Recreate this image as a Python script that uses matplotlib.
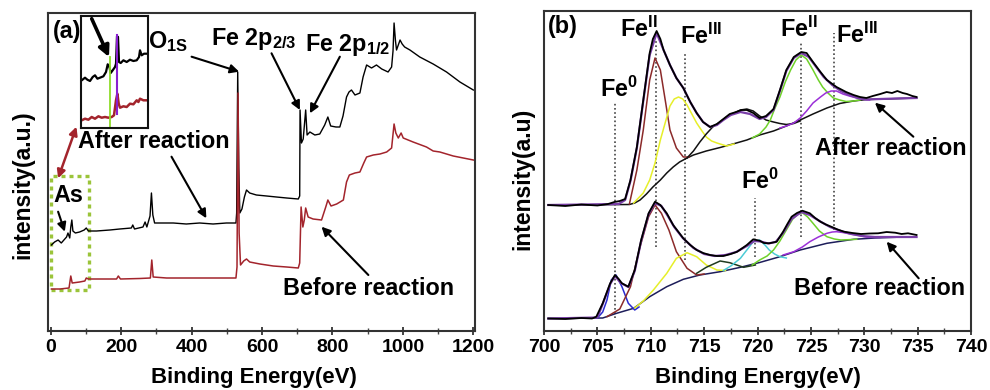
import matplotlib
matplotlib.use("Agg")
import matplotlib.pyplot as plt
from matplotlib.ticker import MultipleLocator
from matplotlib.patches import Rectangle

plt.rcParams['font.family'] = ['Liberation Sans', 'DejaVu Sans']
plt.rcParams['font.weight'] = 'bold'
plt.rcParams['mathtext.fontset'] = 'custom'
plt.rcParams['mathtext.rm'] = 'Liberation Sans:bold'
plt.rcParams['mathtext.bf'] = 'Liberation Sans:bold'
plt.rcParams['mathtext.it'] = 'Liberation Sans:bold:italic'

# ---------------- Panel (a): survey spectra ----------------
survey_after_E = [2, 11, 21, 30, 40, 45, 49, 54, 57, 60, 63, 70, 82, 95, 101, 107, 130, 168, 196, 229, 233, 238,
                  262, 268, 273, 282, 286, 290, 295, 310, 348, 385, 423, 461, 499, 526, 528, 531, 534, 537, 543,
                  550, 556, 565, 584, 613, 641, 670, 703, 707, 708, 712, 717, 724, 728, 736, 750, 764, 778, 787,
                  795, 810, 821, 830, 840, 847, 854, 864, 878, 887, 897, 911, 925, 940, 958, 968, 972, 975, 979,
                  982, 987, 992, 998, 1005, 1020, 1048, 1086, 1124, 1143, 1162, 1200]
survey_after_I = [86, 89, 91, 88, 92, 94, 98, 93, 104, 111, 100, 98, 99, 101, 103, 100, 100, 101, 102, 103, 106, 102,
                  104, 109, 104, 115, 138, 116, 108, 108, 108, 107, 108, 107, 108, 108, 118, 259, 164, 118, 122,
                  134, 141, 138, 136, 135, 134, 133, 132, 135, 221, 188, 192, 221, 196, 199, 196, 197, 206, 214,
                  205, 204, 204, 215, 234, 239, 241, 236, 238, 254, 266, 263, 266, 262, 259, 264, 280, 308, 290,
                  281, 286, 291, 287, 284, 281, 274, 267, 259, 254, 249, 241]

survey_before_E = [2, 26, 52, 57, 61, 82, 97, 101, 107, 139, 187, 192, 198, 253, 283, 287, 291, 329, 423, 526, 529,
                   532, 535, 539, 548, 556, 565, 594, 632, 670, 703, 707, 711, 716, 720, 724, 731, 745, 769, 781,
                   787, 796, 812, 831, 840, 848, 864, 878, 889, 897, 916, 935, 954, 968, 975, 980, 987, 995, 1001,
                   1029, 1067, 1086, 1105, 1143, 1200]
survey_before_I = [42, 42, 43, 55, 48, 49, 50, 53, 52, 52, 52, 55, 52, 52.5, 53, 71, 54, 53, 53, 53, 64,
                   238, 98, 66, 70, 72, 69, 67, 65, 64, 63, 68, 124, 104, 111, 123, 114, 112, 111, 124,
                   131, 125, 127, 131, 149, 156, 158, 159, 168, 174, 176, 177, 179, 183, 207, 198, 193, 198, 193,
                   189, 184, 180, 179, 175, 171]

# inset (zoom of the As region), local units
inset_x_after = [1, 4.3, 6.7, 9.3, 12, 14.3, 16.7, 19.3, 22.7, 25.3, 27, 28.7, 30, 32, 34.3, 35.3, 36.3, 37.3,
                 38.3, 40, 42.7, 46, 49.3, 52.7, 56, 58.3, 59.3, 61, 63.3, 66]
inset_y_after = [47.7, 50.3, 48.3, 47, 51, 52.7, 49.3, 50.3, 51.7, 56, 63.7, 61, 55, 57.7, 61, 64.3, 91.7, 91,
                 66, 65, 67.7, 66, 68.3, 67, 67.7, 71, 77.7, 72.7, 74.3, 74.3]
inset_x_before = [1, 4.3, 7.7, 11, 14.3, 17.7, 21, 24.3, 27.7, 31, 33.3, 35.3, 36.7, 38, 39.3, 42.7, 46, 49.3,
                  52.7, 56, 57.7, 59.3, 62.7, 66]
inset_y_before = [7.7, 9.3, 8.3, 11, 9.3, 11.7, 10.3, 11, 10.3, 11, 12.7, 27.7, 34.3, 24.3, 20.3, 21.7, 21, 24.3,
                  23.7, 27.7, 26, 29.3, 27.7, 27.7]

# ---------------- Panel (b): Fe 2p high resolution ----------------
after_E = [700.4, 702.0, 703.5, 705.0, 706.0, 706.6, 707.1, 707.6, 708.1, 708.7, 709.3, 709.9, 710.2, 710.55,
           710.9, 711.2, 711.8, 712.4, 713.05, 713.7, 714.3, 714.9, 715.55, 716.2, 716.8, 717.4, 718.0, 718.5,
           719.0, 719.6, 720.2, 720.8, 721.5, 722.1, 722.7, 723.4, 724.1, 724.6, 725.2, 725.9, 726.5, 727.4,
           728.3, 729.0, 729.6, 730.2, 730.8, 731.5, 732.1, 732.6, 733.1, 733.6, 734.0, 734.5, 734.9]
after_I = [126, 125, 126.5, 125.5, 127, 129, 130, 132, 151, 184, 231, 278, 292, 300,
           292, 281, 266, 253, 243, 229, 218, 209, 204, 207, 212, 217, 219, 221,
           221, 218, 213, 215, 222, 241, 261, 274, 279, 278, 269, 259, 251, 244,
           239, 236, 234, 233, 235, 237, 239, 238, 240, 238, 237, 235, 234]

after_fit_E = [700.4, 707.0, 707.6, 708.1, 708.7, 709.3, 709.9, 710.55, 711.2, 711.8, 712.4, 713.05, 713.7,
               714.3, 714.9, 715.55, 716.2, 716.8, 717.5, 718.4, 719.3, 720.2, 720.8, 721.5, 722.1, 722.7,
               723.4, 724.1, 724.8, 725.5, 726.2, 727.0, 727.8, 728.6, 729.4, 730.2, 731.5, 733.0, 734.9]
after_fit_I = [126, 127, 131, 150, 183, 230, 276, 298, 281, 266, 253, 243, 229,
               218, 209, 204, 206, 211, 216, 219, 217, 212, 214, 221, 240, 260,
               273, 278, 274, 264, 254, 246, 240, 236, 233, 231.5, 232, 232.5, 233]

after_bg_E = [700.4, 708.0, 708.5, 709.0, 709.6, 710.2, 710.9, 711.5, 712.1, 712.7, 713.4, 714.0, 715.2,
              716.5, 717.7, 719.0, 720.2, 721.5, 722.7, 724.0, 725.2, 726.5, 727.7, 729.0, 730.2, 731.8,
              733.4, 734.9]
after_bg_I = [126, 126.5, 128, 131, 137, 144, 151, 158, 164, 169, 173, 176, 180,
              183.5, 187, 191, 196, 200, 205, 211, 217, 223, 227.5, 230, 231.5, 232,
              232.5, 233]

after_fe2_E = [708.0, 708.7, 709.3, 709.9, 710.4, 710.9, 711.4, 711.8, 712.4, 713.05, 713.6]
after_fe2_I = [127, 161, 201, 251, 273, 261, 228, 201, 183, 174, 174]

after_fe3_E = [708.4, 709.3, 709.9, 710.4, 710.9, 711.4, 711.8, 712.2, 712.6, 713.0, 713.4, 713.9, 714.3,
               714.8, 715.2, 715.7, 716.2, 717.1, 717.8]
after_fe3_I = [128, 138, 151, 168, 191, 210, 225, 232, 234, 232, 226, 216, 208,
               200, 194, 190, 188, 185, 187]

after_sat_E = [713.4, 714.0, 714.6, 715.2, 715.8, 716.5, 717.1, 717.8, 718.4, 719.0, 719.6, 720.2, 720.8,
               721.5, 722.1, 722.7, 723.4, 724.0]
after_sat_I = [173, 180, 189, 197, 204, 209, 214, 218, 221, 222, 220, 215, 211,
               209, 207.5, 206.5, 207.5, 210]

after_fe2b_E = [719.5, 720.2, 720.8, 721.2, 721.6, 722.1, 722.6, 723.1, 723.6, 724.1, 724.6, 725.2, 725.7,
                726.1, 726.6, 727.1, 727.7, 728.3, 729.0, 729.6]
after_fe2b_I = [193, 197, 204, 211, 222, 234, 249, 261, 271, 276, 272, 261, 251,
                244, 238, 233, 231, 229.5, 230, 231]

after_fe3b_E = [722.1, 722.7, 723.4, 724.0, 724.6, 725.2, 725.9, 726.4, 726.9, 727.4, 728.0, 728.6, 729.3,
                730.0, 730.5]
after_fe3b_I = [203, 205, 208, 213, 220, 228, 234, 238, 240, 240, 237, 235, 233,
                231.5, 231]

before_E = [700.4, 702.0, 703.5, 704.5, 704.9, 705.5, 706.2, 706.65, 707.0, 707.3, 707.9, 708.5, 709.1,
            709.8, 710.4, 710.9, 711.5, 712.1, 713.05, 713.7, 714.3, 714.9, 715.55, 716.2, 716.8, 717.5,
            718.1, 718.6, 719.0, 719.6, 720.2, 720.6, 721.1, 721.8, 722.4, 722.8, 723.2, 723.7, 724.2, 724.9,
            725.4, 725.9, 726.4, 726.9, 727.5, 728.1, 728.9, 729.7, 730.5, 731.3, 732.1, 732.9, 733.5, 734.1,
            734.9]
before_I = [12.5, 12, 13, 12.5, 14.3, 27.7, 47.7, 56, 52, 47.7, 44.3, 61, 91,
            117.7, 129.3, 126, 117.7, 106, 92.7, 86, 81, 78, 76, 75, 75, 77,
            79.3, 83, 86, 91.7, 90.3, 88, 87.7, 89.3, 99.3, 107, 114.3, 118, 120.3, 117.7,
            113, 109.3, 106.5, 104.3, 101.5, 99.3, 98, 97, 97.5, 97.7, 99, 98.3, 97, 97.7,
            96]

before_fit_E = [700.4, 705.0, 705.5, 706.2, 706.65, 707.2, 707.9, 708.5, 709.1, 709.8, 710.4, 711.0, 711.6,
                712.2, 713.0, 714.0, 715.0, 716.0, 717.0, 718.0, 719.0, 719.7, 720.3, 721.0, 721.7, 722.4,
                723.2, 724.1, 724.9, 725.8, 726.8, 727.8, 728.8, 729.8, 731.0, 733.0, 734.9]
before_fit_I = [12.5, 13.5, 27, 47, 55, 48, 44, 60, 90, 117, 128, 125, 115,
                104, 93, 83, 77, 75, 76, 79, 85, 90, 89.5, 87.5, 89, 98,
                112, 119, 116, 110, 104, 100, 97, 95, 94, 94, 94]

before_bg_E = [700.4, 705.5, 706.8, 708.4, 709.9, 711.5, 713.05, 714.6, 716.5, 718.4, 720.2, 722.1, 724.0,
               726.5, 729.0, 731.0, 732.9]
before_bg_I = [12.5, 13, 17.7, 22.7, 34.3, 44.3, 51.7, 56, 59.3, 63.7, 68.5, 74.3, 81,
               87.7, 91.7, 93, 93.7]

before_fe0_E = [705.0, 705.5, 705.9, 706.3, 706.75, 707.3, 707.9, 708.5, 708.9]
before_fe0_I = [13, 19, 31, 51, 56, 44.3, 27.7, 21, 24]

before_fe2_E = [705.9, 707.1, 708.1, 709.0, 709.8, 710.4, 711.0, 711.7, 712.4, 713.4, 714.3, 715.0]
before_fe2_I = [14.3, 22, 44.3, 84.3, 114.3, 126, 117.7, 101, 79.3, 62.7, 56, 57]

before_fe3_E = [708.5, 709.3, 710.25, 711.5, 712.4, 713.4, 714.3, 715.2, 716.2, 717.0]
before_fe3_I = [23, 30, 41, 57.7, 72.7, 78.3, 74.3, 66, 61, 60.5]

before_sat_E = [714.3, 715.2, 716.5, 717.4, 718.7, 719.8]
before_sat_I = [57.7, 63.7, 70, 68.3, 63.7, 66]

before_fe0b_E = [716.8, 717.5, 718.4, 719.0, 719.6, 720.2, 720.7, 721.1, 721.6, 722.1, 722.7]
before_fe0b_I = [60.5, 65, 72.7, 81, 89.3, 91, 86, 81, 77, 74.3, 73]

before_fe2b_E = [719.5, 720.2, 720.9, 721.5, 722.1, 722.7, 723.3, 723.8, 724.2, 724.7, 725.2, 725.8, 726.5,
                 727.2, 727.8, 728.5, 729.3]
before_fe2b_I = [66, 71, 75, 81, 90, 101, 112, 117, 118.3, 114, 107.7, 100, 94.3,
                 92, 91, 91.3, 91.7]

before_fe3b_E = [722.4, 723.4, 724.2, 724.9, 725.7, 726.5, 727.0, 727.4, 728.0, 728.7, 729.5, 730.3, 731.5]
before_fe3b_I = [76, 79.3, 84, 89.3, 94, 97.7, 99, 99.3, 98.5, 97, 95.5, 93.7, 93.5]

ref_line_E = [706.65, 710.5, 713.2, 719.8, 724.1, 727.2]
ref_line_top = [228, 292, 278, 133, 288, 298]
ref_line_bottom = [13, 84, 71, 74, 94, 101]

tick_a = [0, 200, 400, 600, 800, 1000, 1200]
tick_b = [700, 705, 710, 715, 720, 725, 730, 735, 740]

# ---------------- figure ----------------
fig = plt.figure(figsize=(9.9, 3.9), dpi=100)
axa = fig.add_axes([48 / 990, 59 / 390, 427 / 990, 318 / 390])
axb = fig.add_axes([544 / 990, 59 / 390, 427 / 990, 320 / 390])

FS = 16.8
RED = '#a3242c'


def arrow(ax, head, tail, color='black', lw=1.5, style='-|>', ms=13):
    ax.annotate('', xy=head, xytext=tail,
                arrowprops=dict(arrowstyle=style, color=color, lw=lw, mutation_scale=ms,
                                shrinkA=0, shrinkB=0))


def style_axes(ax, ticks, minor):
    ax.set_xticks(ticks)
    ax.xaxis.set_minor_locator(MultipleLocator(minor))
    ax.set_yticks([])
    ax.tick_params(axis='x', which='major', direction='inout', length=6, width=1.2,
                   labelsize=14, pad=3, colors='#222222')
    ax.tick_params(axis='x', which='minor', direction='inout', length=4, width=1.0, colors='#444444')
    for lab in ax.get_xticklabels():
        lab.set_fontweight('bold')
        lab.set_color('black')
    for s in ax.spines.values():
        s.set_linewidth(1.5)
        s.set_color('#333333')


# Panel (a)
axa.plot(survey_after_E, survey_after_I, color='black', lw=1.0)
axa.plot(survey_before_E, survey_before_I, color=RED, lw=1.1)
axa.set_xlim(-7.7, 1204.8)
axa.set_ylim(0, 318)
style_axes(axa, tick_a, 100)
axa.set_xlabel('Binding Energy(eV)', fontsize=16, fontweight='bold', va='center')
axa.xaxis.set_label_coords(0.482, -0.147)
axa.set_ylabel('intensity(a.u.)', fontsize=16.5, fontweight='bold', va='center')
axa.yaxis.set_label_coords(-0.058, 0.46)

axa.text(5.7, 293, '(a)', fontsize=FS, fontweight='bold')
axa.text(276, 283, r'O$_{\mathrm{1S}}$', fontsize=FS, fontweight='bold')
axa.text(455, 286, r'Fe 2p$_{\mathrm{2/3}}$', fontsize=FS, fontweight='bold')
axa.text(722, 280, r'Fe 2p$_{\mathrm{1/2}}$', fontsize=FS, fontweight='bold')
axa.text(77.6, 183, 'After reaction', fontsize=FS, fontweight='bold')
axa.text(660, 36, 'Before reaction', fontsize=FS, fontweight='bold')
axa.text(6.5, 129, 'As', fontsize=FS, fontweight='bold')

arrow(axa, (535, 259.3), (400, 274.3))
arrow(axa, (707.6, 221), (627, 277.7))
arrow(axa, (736, 217.7), (821, 274.3))
arrow(axa, (442, 112.7), (343, 174.3))
arrow(axa, (769, 104.3), (902, 56))
arrow(axa, (40, 99.3), (21, 119.3))
arrow(axa, (21, 152.7), (73, 204.3), color=RED, lw=1.8, style='<|-|>', ms=12)

axa.add_patch(Rectangle((2, 41), 107, 114, fill=False, ls=(0, (1.2, 1.2)), lw=2.4,
                        edgecolor='#9bc43a'))

# inset
axi = fig.add_axes([80.7 / 990, (390 - 128) / 390, 67.3 / 990, 112 / 390])
axi.plot(inset_x_after, inset_y_after, color='black', lw=1.6)
axi.plot(inset_x_before, inset_y_before, color=RED, lw=1.8)
axi.plot([29.3, 29.3], [0, 71], color='#8fdc2a', lw=1.3)
axi.plot([36.7, 36.7], [14.3, 92.7], color='#8a1fd0', lw=1.5)
axi.annotate('', xy=(28.3, 71), xytext=(11, 109.3),
             arrowprops=dict(arrowstyle='-|>', color='black', lw=2.6, mutation_scale=16,
                             shrinkA=0, shrinkB=0))
axi.set_xlim(0, 67.3)
axi.set_ylim(0, 112)
axi.set_xticks([])
axi.set_yticks([])
for s in axi.spines.values():
    s.set_linewidth(1.5)
    s.set_color('#111111')

# Panel (b)
for x, t, b in zip(ref_line_E, ref_line_top, ref_line_bottom):
    axb.plot([x, x], [b, t], color='#444444', lw=1.2, ls=(0, (1, 1.5)))

comp_lw = 1.1
axb.plot(after_bg_E, after_bg_I, color='#111111', lw=1.1)
axb.plot(after_fe2_E, after_fe2_I, color='#8b2a2a', lw=comp_lw)
axb.plot(after_fe3_E, after_fe3_I, color='#e6ef2a', lw=comp_lw)
axb.plot(after_sat_E, after_sat_I, color='#111111', lw=comp_lw)
axb.plot(after_fe2b_E, after_fe2b_I, color='#6fd12a', lw=comp_lw)
axb.plot(after_fe3b_E, after_fe3b_I, color='#9b30d8', lw=comp_lw)
axb.plot(after_fit_E, after_fit_I, color='#7a3fa8', lw=1.6)
axb.plot(after_E, after_I, color='black', lw=1.3)

axb.plot(before_bg_E, before_bg_I, color='#1d1d5a', lw=1.1)
axb.plot(before_fe0_E, before_fe0_I, color='#2a2ad0', lw=comp_lw)
axb.plot(before_fe2_E, before_fe2_I, color='#8b2a2a', lw=comp_lw)
axb.plot(before_fe3_E, before_fe3_I, color='#e6ef2a', lw=comp_lw)
axb.plot(before_sat_E, before_sat_I, color='#1f3a1f', lw=comp_lw)
axb.plot(before_fe0b_E, before_fe0b_I, color='#4ccbd6', lw=comp_lw)
axb.plot(before_fe2b_E, before_fe2b_I, color='#6fd12a', lw=comp_lw)
axb.plot(before_fe3b_E, before_fe3b_I, color='#9b30d8', lw=comp_lw)
axb.plot(before_fit_E, before_fit_I, color='#7a3fa8', lw=1.6)
axb.plot(before_E, before_I, color='black', lw=1.3)

axb.set_xlim(700, 740)
axb.set_ylim(0, 320)
style_axes(axb, tick_b, 2.5)
axb.set_xlabel('Binding Energy(eV)', fontsize=16, fontweight='bold', va='center')
axb.xaxis.set_label_coords(0.502, -0.146)
axb.set_ylabel('intensity(a.u)', fontsize=16.5, fontweight='bold', va='center')
axb.yaxis.set_label_coords(-0.049, 0.475)

axb.text(700.4, 297.7, '(b)', fontsize=FS, fontweight='bold')
axb.text(705.2, 234, r'Fe$^{\mathrm{0}}$', fontsize=FS, fontweight='bold')
axb.text(707.1, 294, r'Fe$^{\mathrm{II}}$', fontsize=FS, fontweight='bold')
axb.text(712.7, 287, r'Fe$^{\mathrm{III}}$', fontsize=FS, fontweight='bold')
axb.text(722.1, 294, r'Fe$^{\mathrm{II}}$', fontsize=FS, fontweight='bold')
axb.text(727.4, 288, r'Fe$^{\mathrm{III}}$', fontsize=FS, fontweight='bold')
axb.text(718.5, 141.7, r'Fe$^{\mathrm{0}}$', fontsize=FS, fontweight='bold')
axb.text(725.4, 176, 'After reaction', fontsize=FS, fontweight='bold')
axb.text(723.4, 36, 'Before reaction', fontsize=FS, fontweight='bold')
arrow(axb, (731.0, 228.3), (734.6, 194.3))
arrow(axb, (732.1, 89.3), (735.1, 52.7))

fig.savefig('out.png', dpi=100)
